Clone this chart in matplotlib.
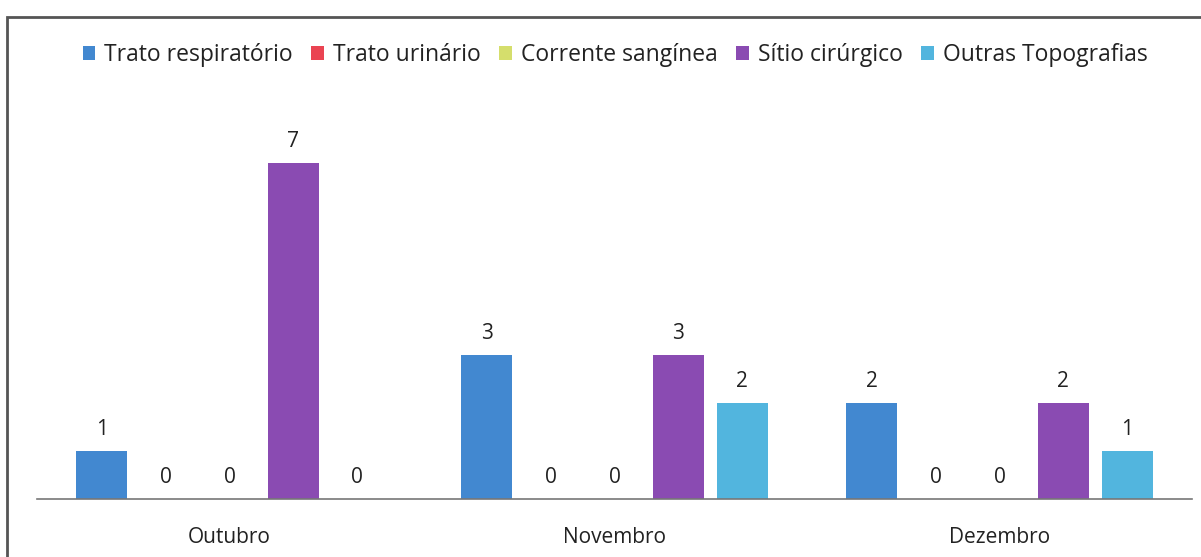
import matplotlib
matplotlib.use("Agg")
import matplotlib.pyplot as plt
import numpy as np
from matplotlib.patches import Rectangle

months = ["Outubro", "Novembro", "Dezembro"]
series_names = ["Trato respiratório", "Trato urinário", "Corrente sangínea",
                "Sítio cirúrgico", "Outras Topografias"]
trato_respiratorio = [1, 3, 2]
trato_urinario = [0, 0, 0]
corrente_sanginea = [0, 0, 0]
sitio_cirurgico = [7, 3, 2]
outras_topografias = [0, 2, 1]
series_values = [trato_respiratorio, trato_urinario, corrente_sanginea,
                 sitio_cirurgico, outras_topografias]
colors = ["#4288D0", "#EA4452", "#D5DE6C", "#8A4BB2", "#52B5DE"]

plt.rcParams['font.family'] = ['Open Sans', 'DejaVu Sans']

fig = plt.figure(figsize=(12.01, 5.57), dpi=100)
ax = fig.add_axes([37/1201, 1-499/557, (1192-37)/1201, (499-115)/557])

x = np.arange(len(months))
slot = 0.166
width = 0.1325
for i, (name, vals, c) in enumerate(zip(series_names, series_values, colors)):
    pos = x + (i - 2) * slot
    bars = ax.bar(pos, vals, width=width, color=c, label=name)
    ax.bar_label(bars, labels=[str(v) for v in vals], padding=8,
                 fontsize=15, color="#222222")

ax.set_xlim(-0.5, 2.5)
ax.set_ylim(0, 8)
ax.set_xticks(x)
ax.set_xticklabels(months, fontsize=15, color="#222222")
ax.tick_params(axis='x', length=0, pad=20)
ax.set_yticks([])
for s in ["top", "left", "right"]:
    ax.spines[s].set_visible(False)
ax.spines["bottom"].set_color("#777777")
ax.spines["bottom"].set_linewidth(1.2)

leg = fig.legend(loc="center", bbox_to_anchor=(615/1201, 1-55/557), ncol=5,
                 frameon=False, fontsize=16.5, handlelength=0.55, handleheight=0.6,
                 handletextpad=0.4, columnspacing=0.8)
for t in leg.get_texts():
    t.set_color("#222222")

fig.patches.append(Rectangle((7/1201, -0.05), 1.2, 1-17/557+0.05,
                             transform=fig.transFigure, fill=False,
                             edgecolor="#555555", linewidth=2))

fig.savefig("out.png", dpi=100)
